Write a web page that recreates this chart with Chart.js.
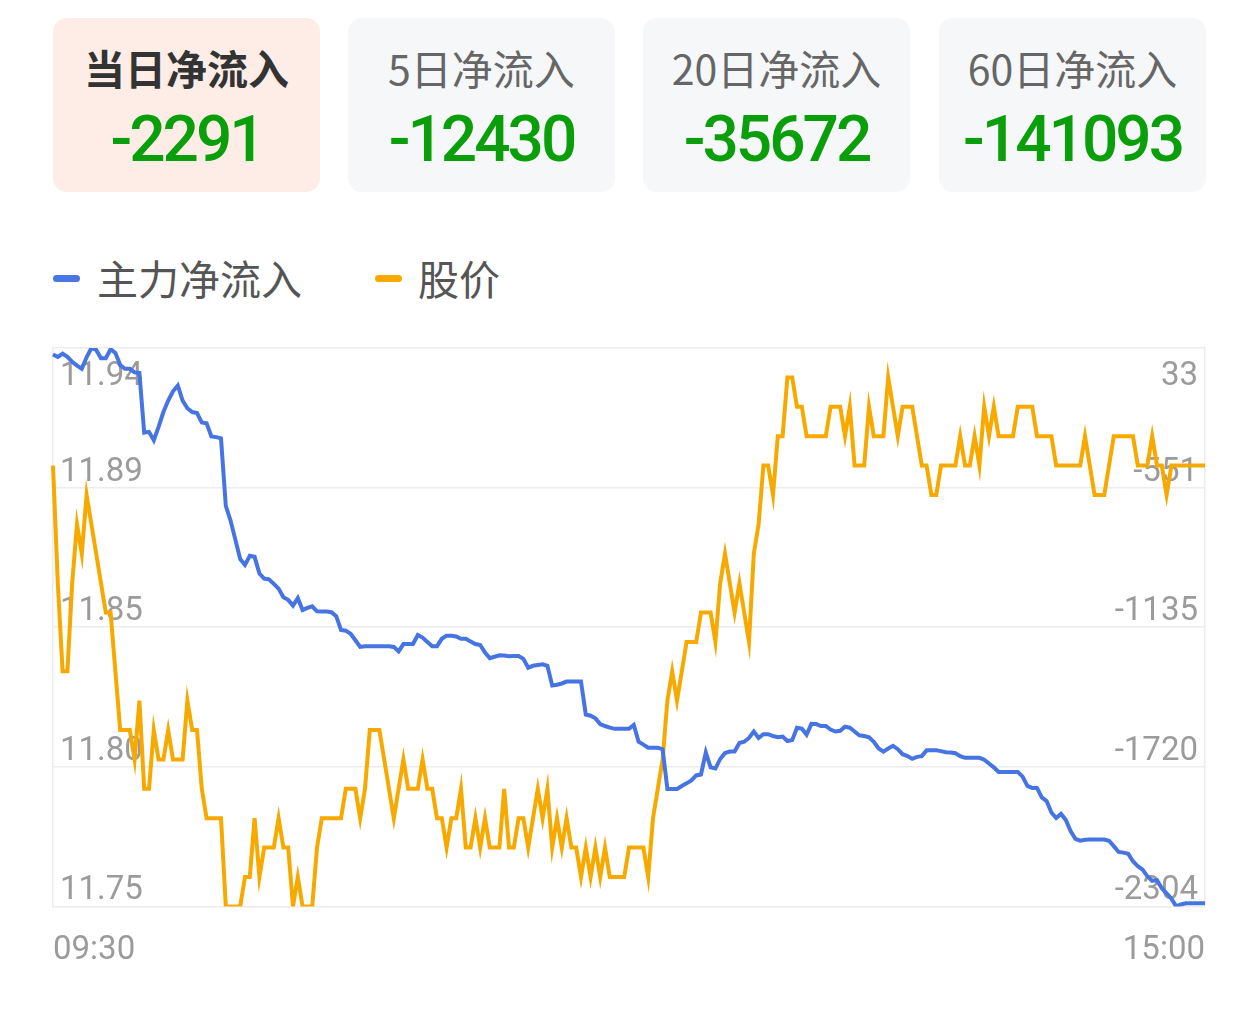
<!DOCTYPE html>
<html lang="zh-CN">
<head>
<meta charset="utf-8">
<title>主力净流入</title>
<script src="https://cdn.jsdelivr.net/npm/chart.js@4.4.1/dist/chart.umd.min.js"></script>
<style>
  html,body{margin:0;padding:0;background:#fff;}
  body{width:1259px;height:1017px;position:relative;overflow:hidden;font-family:"Noto Sans CJK SC","Noto Sans",sans-serif;}
  .card{position:absolute;top:18px;width:267px;height:174px;border-radius:14px;background:#f6f7f9;}
  .card.on{background:#fdede6;}
  .card .t{position:absolute;left:0;right:0;top:29px;text-align:center;font-size:41px;line-height:41px;color:#666;}
  .card.on .t{color:#333;font-weight:bold;}
  .card .v{position:absolute;left:0;right:0;top:90px;text-align:center;font-family:Roboto,sans-serif;font-weight:500;font-size:64px;line-height:64px;letter-spacing:-3px;color:#0a9f0a;}
  .lg{position:absolute;top:257px;font-size:41px;line-height:41px;color:#555;}
  .mk{position:absolute;top:275px;width:27px;height:7px;border-radius:4px;}
  #wrap{position:absolute;left:0;top:300px;width:1259px;height:715px;}
</style>
</head>
<body>
<div id="cards"></div>
<div class="mk" style="left:53px;background:#4a76e2"></div><div class="lg" style="left:97px">主力净流入</div>
<div class="mk" style="left:375px;background:#f7a900"></div><div class="lg" style="left:418px">股价</div>
<div id="wrap"><canvas id="flowChart"></canvas></div>
<script>
// 顶部四个统计卡片
const cardTitles = ['当日净流入','5日净流入','20日净流入','60日净流入'];
const cardValues = ['-2291','-12430','-35672','-141093'];
const cardLeft = [53,348,643,939];

// 坐标轴刻度文字
const priceTicks = ['11.75','11.80','11.85','11.89','11.94'];
const flowTicks = ['-2304','-1720','-1135','-551','33'];
const timeTicks = ['09:30','15:00'];

// 主力净流入（右轴）
const flow = [
  6,-4,9,-4,-25,-41,-54,-6,33,25,-10,-10,28,12,-38,-54,-54,-69,-72,-321,
  -318,-353,-297,-235,-187,-148,-124,-187,-219,-235,-239,-279,-282,-337,-340,-345,-628,-690,-770,-850,
  -875,-837,-841,-911,-932,-935,-954,-974,-1010,-1021,-1045,-1014,-1064,-1055,-1048,-1069,-1070,-1070,-1073,-1089,
  -1147,-1150,-1163,-1190,-1218,-1215,-1215,-1215,-1215,-1215,-1215,-1218,-1237,-1206,-1206,-1206,-1168,-1179,-1197,-1215,
  -1215,-1184,-1171,-1171,-1174,-1184,-1184,-1195,-1206,-1210,-1242,-1265,-1259,-1253,-1254,-1257,-1256,-1256,-1268,-1305,
  -1297,-1294,-1291,-1297,-1379,-1376,-1371,-1363,-1363,-1363,-1363,-1501,-1506,-1517,-1541,-1549,-1556,-1561,-1561,-1561,
  -1561,-1545,-1615,-1627,-1640,-1640,-1640,-1646,-1813,-1813,-1813,-1800,-1789,-1777,-1756,-1752,-1660,-1722,-1727,-1687,
  -1662,-1656,-1656,-1620,-1615,-1599,-1572,-1599,-1583,-1583,-1591,-1596,-1593,-1612,-1608,-1556,-1560,-1585,-1540,-1541,
  -1549,-1549,-1564,-1572,-1569,-1552,-1556,-1572,-1588,-1591,-1596,-1615,-1643,-1656,-1643,-1632,-1646,-1667,-1675,-1686,
  -1678,-1675,-1651,-1651,-1651,-1654,-1659,-1660,-1663,-1675,-1682,-1682,-1682,-1682,-1690,-1706,-1722,-1741,-1741,-1741,
  -1741,-1741,-1761,-1800,-1808,-1808,-1848,-1863,-1911,-1934,-1917,-1942,-1989,-2021,-2029,-2025,-2024,-2024,-2024,-2024,
  -2029,-2052,-2076,-2079,-2084,-2115,-2136,-2150,-2178,-2197,-2194,-2228,-2249,-2272,-2304,-2296,-2291,-2291,-2291,-2291,-2291
];

// 股价（左轴）
const price = [
  11.90,11.86,11.83,11.83,11.86,11.88,11.87,11.89,11.88,11.87,11.86,11.85,11.85,11.83,11.81,11.81,11.81,11.80,11.82,11.79,
  11.79,11.81,11.80,11.80,11.81,11.80,11.80,11.80,11.82,11.81,11.81,11.79,11.78,11.78,11.78,11.78,11.75,11.75,11.75,11.75,
  11.76,11.76,11.78,11.76,11.77,11.77,11.77,11.78,11.77,11.77,11.75,11.76,11.75,11.75,11.75,11.77,11.78,11.78,11.78,11.78,
  11.78,11.79,11.79,11.79,11.78,11.79,11.81,11.81,11.81,11.80,11.79,11.78,11.79,11.80,11.79,11.79,11.79,11.80,11.79,11.79,
  11.78,11.78,11.77,11.78,11.78,11.79,11.77,11.77,11.78,11.77,11.78,11.77,11.77,11.77,11.79,11.77,11.77,11.78,11.78,11.77,
  11.78,11.79,11.78,11.79,11.77,11.78,11.77,11.78,11.77,11.77,11.76,11.77,11.76,11.77,11.76,11.77,11.76,11.76,11.76,11.76,
  11.77,11.77,11.77,11.77,11.76,11.78,11.79,11.80,11.82,11.83,11.82,11.83,11.84,11.84,11.84,11.85,11.85,11.85,11.84,11.86,
  11.87,11.86,11.85,11.86,11.85,11.84,11.87,11.88,11.90,11.90,11.89,11.91,11.91,11.93,11.93,11.92,11.92,11.91,11.91,11.91,
  11.91,11.91,11.92,11.92,11.92,11.91,11.92,11.90,11.90,11.90,11.92,11.91,11.91,11.91,11.93,11.92,11.91,11.92,11.92,11.92,
  11.91,11.90,11.90,11.89,11.89,11.90,11.90,11.90,11.90,11.91,11.90,11.90,11.91,11.90,11.92,11.91,11.92,11.91,11.91,11.91,
  11.91,11.92,11.92,11.92,11.92,11.91,11.91,11.91,11.91,11.90,11.90,11.90,11.90,11.90,11.90,11.91,11.90,11.89,11.89,11.89,
  11.90,11.91,11.91,11.91,11.91,11.91,11.90,11.90,11.90,11.91,11.90,11.90,11.89,11.90,11.90,11.90,11.90,11.90,11.90,11.90,11.90
];

// 分时横轴：09:30-11:30, 13:01-15:00
const minutes = [];
for (let m = 570; m <= 690; m++) minutes.push(m);
for (let m = 781; m <= 900; m++) minutes.push(m);
const times = minutes.map(m => String(Math.floor(m/60)).padStart(2,'0') + ':' + String(m%60).padStart(2,'0'));

const $ = id => document.getElementById(id);
$('cards').innerHTML = cardTitles.map((t,i) =>
  `<div class="card${i===0?' on':''}" style="left:${cardLeft[i]}px"><div class="t">${t}</div><div class="v">${cardValues[i]}</div></div>`).join('');

// 纵轴文字画在网格线上方（最上面一格画在线下方）
const yLabels = {
  id: 'yLabels',
  beforeDatasetsDraw(chart){
    const {ctx, chartArea} = chart;
    ctx.save();
    ctx.font = '33px Roboto';
    ctx.fillStyle = '#9b9b9b';
    ctx.textBaseline = 'alphabetic';
    const draw = (scale, labels, x, align) => {
      ctx.textAlign = align;
      labels.forEach((txt,i) => {
        const y = scale.getPixelForValue(scale.ticks[i].value);
        ctx.fillText(txt, x, i === labels.length-1 ? y + 37 : y - 7);
      });
    };
    draw(chart.scales.y, priceTicks, chartArea.left + 7, 'left');
    draw(chart.scales.y1, flowTicks, chartArea.right - 7, 'right');
    ctx.restore();
  }
};

Chart.defaults.font.family = 'Roboto, "Noto Sans CJK SC", sans-serif';
new Chart($('flowChart'), {
  type: 'line',
  data: {
    labels: times,
    datasets: [
      {label:'主力净流入', data:flow, yAxisID:'y1', borderColor:'#4674e3', borderWidth:4, pointRadius:0, tension:0},
      {label:'股价', data:price, yAxisID:'y', borderColor:'#f7a900', borderWidth:4, pointRadius:0, tension:0}
    ]
  },
  options: {
    responsive: true, maintainAspectRatio: false, animation: false,
    layout: {padding: {left:53, right:54, top:48, bottom:27}},
    plugins: {legend:{display:false}, tooltip:{enabled:false}},
    scales: {
      x: {
        grid: {display:false}, border: {display:false},
        ticks: {
          autoSkip:false, maxRotation:0, align:'inner', padding:17,
          color:'#9b9b9b', font:{size:33},
          callback: (v,i,arr) => i === 0 ? timeTicks[0] : (i === arr.length-1 ? timeTicks[1] : '')
        }
      },
      y: {
        position:'left', min:11.75, max:11.94,
        ticks: {display:false, count:5},
        grid: {color:'#ececec', lineWidth:1.5, drawTicks:false},
        border: {display:true, color:'#ececec', width:1.5}
      },
      y1: {
        position:'right', min:-2304, max:33,
        ticks: {display:false, count:5},
        grid: {display:false, drawTicks:false},
        border: {display:true, color:'#ececec', width:1.5}
      }
    }
  },
  plugins: [yLabels]
});
</script>
</body>
</html>
